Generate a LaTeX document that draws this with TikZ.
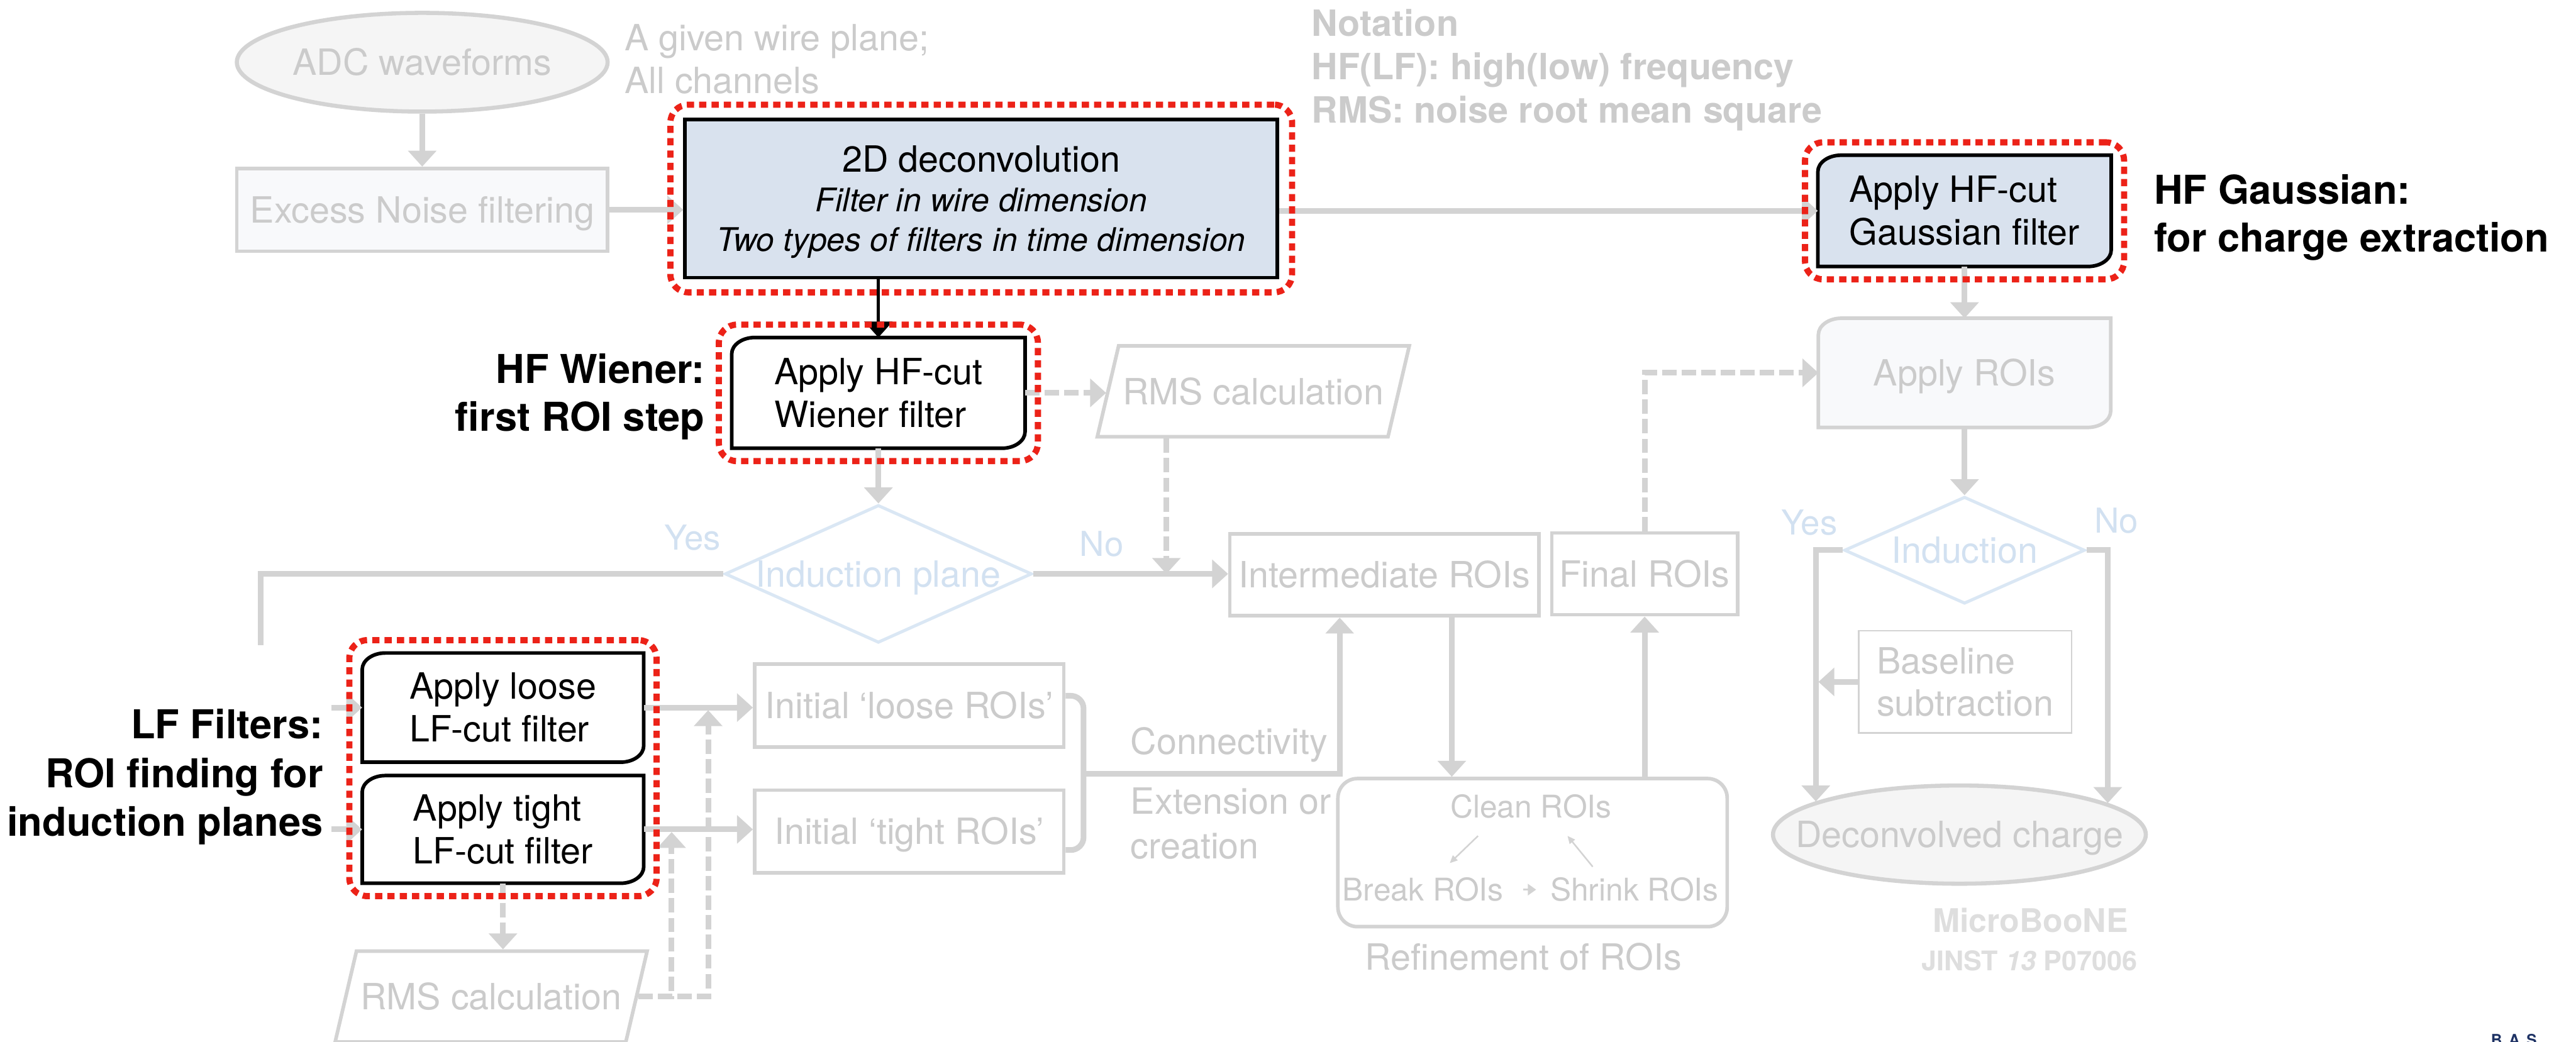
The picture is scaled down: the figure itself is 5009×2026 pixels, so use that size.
\documentclass[tikz,border=0pt]{standalone}
\usepackage{fontspec}
\setmainfont{TeX Gyre Heros}
\usetikzlibrary{arrows.meta,positioning,fit,backgrounds,calc,shapes.geometric}

\definecolor{lgrey}{RGB}{211,211,211}
\definecolor{tgrey}{RGB}{203,203,203}
\definecolor{tlight}{RGB}{222,222,222}
\definecolor{efill}{RGB}{245,245,245}
\definecolor{bfill}{RGB}{248,249,251}
\definecolor{sfill}{RGB}{217,226,238}
\definecolor{lblue}{RGB}{218,231,244}
\definecolor{tblue}{RGB}{210,225,241}
\definecolor{rred}{RGB}{236,34,24}
\definecolor{navy}{RGB}{30,50,100}

\newcommand\setfs[2]{\fontsize{#1pt}{#2pt}\selectfont}
% step box outline: rounded top-left and bottom-right corners only
\newcommand\stepshape[2]{%
  \path[#1] (#2.south west) -- ([yshift=-3.2mm]#2.north west)
    arc[start angle=180, end angle=90, x radius=4.5mm, y radius=3.2mm]
    -- (#2.north east) -- ([yshift=3.2mm]#2.south east)
    arc[start angle=0, end angle=-90, x radius=4.5mm, y radius=3.2mm] -- cycle;}

\tikzset{
  capfix/.style = {text height=14.4pt, text depth=0pt},
  term/.style   = {ellipse, draw=lgrey, line width=0.8mm, fill=efill, text=tgrey,
                   inner sep=0pt, font=\setfs{20}{24}, capfix},
  gbox/.style   = {draw=lgrey, line width=0.7mm, fill=white, text=tgrey,
                   inner sep=0pt, font=\setfs{20}{23.5}},
  stepbox/.style= {inner sep=0pt, align=left, font=\setfs{20}{23.5}},
  para/.style   = {trapezium, trapezium left angle=76.8, trapezium right angle=103.2,
                   draw=lgrey, line width=0.7mm, text=tgrey, inner xsep=0.8mm,
                   inner ysep=6.3mm, font=\setfs{20}{24}, capfix},
  dec/.style    = {diamond, draw=lblue, line width=0.6mm, text=tblue, aspect=2.23,
                   inner sep=0pt, font=\setfs{20}{24}, capfix},
  small/.style  = {text=tgrey, font=\setfs{17.3}{20}, inner sep=0pt,
                   text height=12.4pt, text depth=0pt},
  yn/.style     = {text=tblue, font=\setfs{19}{23}, anchor=base, inner sep=0pt},
  note/.style   = {text=tgrey, font=\setfs{20}{24}, align=left, anchor=base west,
                   inner sep=0pt},
  hl/.style     = {font=\bfseries\setfs{22}{26.5}, inner sep=0pt},
  redbox/.style = {draw=rred, line width=1.2mm, dash pattern=on 1.4mm off 1mm,
                   rounded corners=3.5mm, inner sep=2.5mm},
  ln/.style     = {draw=lgrey, line width=1.1mm},
  arr/.style    = {ln, -{Triangle[length=3.1mm, width=5.4mm]}},
  darr/.style   = {arr, dash pattern=on 2.8mm off 1mm},
  tarr/.style   = {draw=lgrey, line width=0.3mm, -{Triangle[length=1.5mm, width=1.3mm]}}
}

\begin{document}
\begin{tikzpicture}[x=0.1mm, y=-0.1mm]
  \path[use as bounding box] (0,0) rectangle (5009,2026);
  % ---- input and noise filtering ----
  \node[term, minimum width=72.1mm, minimum height=19.2mm] (adc) at (821,121) {ADC waveforms};
  \node[note, font=\setfs{20}{23.6}] (plane) at (1214,181) {A given wire plane;\\All channels};
  \node[gbox, capfix, fill=bfill, minimum width=72.1mm, minimum height=16.1mm] (exc) at (821,408) {Excess Noise filtering};
  \draw[arr] (adc) -- (exc);
  % ---- 2D deconvolution ----
  \node[draw, line width=0.7mm, fill=sfill, minimum width=115.2mm, minimum height=30.8mm,
        align=center, inner sep=0pt, font=\setfs{20}{22}] (dcv) at (1908,386)
    {2D deconvolution\\{\itshape\setfs{18}{22}Filter in wire dimension}\\{\itshape\setfs{18}{22}\smash{Two types of filters in time dimension}}};
  \draw[arr] (exc.east) -- (exc.east -| dcv.west);
  \node[note, font=\bfseries\setfs{20}{24}] (nota) at (2550,239) {Notation\\HF(LF): high(low) frequency\\RMS: noise root mean square};
  % ---- charge extraction branch ----
  \node[stepbox, minimum width=56.9mm, minimum height=21.5mm] (gau) at (3820,410) {Apply HF-cut\\Gaussian filter};
  \draw[arr] (gau.west -| dcv.east) -- (gau.west);
  \node[hl, align=left, anchor=base west] (hfg) at (4188,490) {HF Gaussian:\\for charge extraction};
  \node[stepbox, text=tgrey, capfix, minimum width=56.7mm, minimum height=21.1mm] (aroi) at (3820,725) {Apply ROIs};
  \draw[arr] (gau) -- (aroi);
  \node[dec, aspect=2.25, minimum width=46.8mm, minimum height=20.8mm] (ind2) at (3820,1070) {Induction};
  \draw[arr] (aroi) -- (ind2);
  \node[yn] (yes2) at (3518,1040) {Yes};
  \node[yn] (no2) at (4115,1036) {No};
  \node[gbox, line width=0.3mm, align=left, minimum width=41.4mm, minimum height=19.9mm] (bsl) at (3821,1326) {Baseline\\subtraction};
  \node[term, inner xsep=-7mm, minimum width=72.5mm, minimum height=19.1mm] (dq) at (3810,1623) {Deconvolved charge};
  \draw[arr] (ind2.west) -| (dq.167);
  \draw[arr] (ind2.east) -| (dq.12);
  \draw[arr, shorten >=0.5mm] (bsl.west) -- (bsl.west -| dq.167);
  \node[font=\bfseries\setfs{18}{18}, text=tlight, anchor=base, inner sep=0pt] (mub) at (3948,1813) {MicroBooNE};
  \node[font=\bfseries\setfs{15}{15}, text=tlight, anchor=base, inner sep=0pt] (jinst) at (3946,1888) {JINST \textit{13} P07006};
  \node[font=\bfseries\setfs{8.5}{9}, text=navy, anchor=north west, inner sep=0pt] (bas) at (4843,2010) {B\hspace{1.3mm}A\hspace{1.3mm}S};
  % ---- first ROI step ----
  \node[stepbox, minimum width=56.9mm, minimum height=21.4mm] (wien) at (1708,764) {Apply HF-cut\\Wiener filter};
  \draw[line width=0.6mm, -{Triangle[length=3.1mm, width=5.4mm]}] (dcv.south -| wien.north) -- (wien.north);
  \node[hl, align=right, anchor=base east] (hfw) at (1371,838) {HF Wiener:\\first ROI step};
  \node[para] (rms1) at (2437,761) {RMS calculation};
  \draw[darr] (wien.east) -- (wien.east -| rms1.west);
  \node[dec, minimum width=59.7mm, minimum height=26.8mm] (ind1) at (1708,1116) {Induction plane};
  \draw[arr] (wien) -- (ind1);
  \node[yn] (yes1) at (1347,1070) {Yes};
  \node[yn] (no1) at (2142,1082) {No};
  \coordinate (yesend) at (507,1255);
  \draw[ln] (ind1.west) -| (yesend);
  % ---- ROI bookkeeping ----
  \node[gbox, capfix, minimum width=60.1mm, minimum height=15.9mm] (inter) at (2692,1118) {Intermediate ROIs};
  \node[gbox, capfix, minimum width=36.1mm, minimum height=15.9mm] (final) at (3198,1116) {Final ROIs};
  \draw[arr] (ind1.east) -- (ind1.east -| inter.west);
  \coordinate (rmsj) at (2268,1116);
  \draw[darr] (rms1.south -| rmsj) -- (rmsj);
  \draw[darr] (final.north) |- (aroi.west);
  \node[gbox, rounded corners=3.8mm, minimum width=75.7mm, minimum height=28.8mm] (refb) at (2980,1658) {};
  \node[small] (cln) at (2977,1569) {Clean ROIs};
  \node[small] (brk) at (2767,1730) {Break ROIs};
  \node[small] (shr) at (3178,1730) {Shrink ROIs};
  \draw[tarr] ([xshift=-10.3mm, yshift=-3.4mm]cln.south) -- ([xshift=5.2mm, yshift=2.9mm]brk.north);
  \draw[tarr] ([xshift=-8.1mm, yshift=2.2mm]shr.north) -- ([xshift=7.1mm, yshift=-3.4mm]cln.south);
  \draw[tarr, -{Triangle[length=1.6mm, width=2.2mm]}] ([xshift=3.8mm]brk.east) -- ([xshift=-2.7mm]shr.west);
  \node[note, anchor=base] (refl) at (2962,1886) {Refinement of ROIs};
  \draw[arr] ([xshift=13.1mm]inter.south) -- ([xshift=13.1mm]inter.south |- refb.north);
  \draw[arr] (refb.north -| final) -- (final.south);
  % ---- LF filters for induction planes ----
  \node[stepbox, minimum width=54.6mm, minimum height=21.1mm] (loose) at (978,1376) {Apply loose\\LF-cut filter};
  \node[stepbox, minimum width=54.6mm, minimum height=20.8mm, below=2.6mm of loose] (tight) {Apply tight\\LF-cut filter};
  \node[hl, align=right, anchor=base east, font=\bfseries\setfs{22}{27}] (hflf) at (629,1626) {LF Filters:\\ROI finding for\\induction planes};
  \draw[arr] ([xshift=-6mm]loose.west) -- (loose.west);
  \draw[arr] ([xshift=-6mm]tight.west) -- (tight.west);
  \node[gbox, capfix, minimum width=60.1mm, minimum height=16.1mm] (iloose) at (1768,1372) {Initial ‘loose ROIs’};
  \node[gbox, capfix, minimum width=60.1mm, minimum height=16.1mm] (itight) at (1768,1617) {Initial ‘tight ROIs’};
  \draw[arr] (loose.east) -- (loose.east -| iloose.west);
  \draw[arr] (tight.east) -- (tight.east -| itight.west);
  \node[para] (rms2) at (955,1938) {RMS calculation};
  \draw[darr] (tight.south) -- (tight.south |- rms2.north);
  \coordinate (jt) at (1306,1618);
  \coordinate (jl) at (1377,1381);
  \draw[darr] (rms2.east) -| (jt);
  \draw[darr] (rms2.east) -| (jl);
  \coordinate (btip) at (2107,1505);
  \draw[ln, rounded corners=2.5mm] ([yshift=1.9mm]iloose.east) -| (btip) |- ([yshift=-3.6mm]itight.east);
  \draw[arr] (btip) -| ([xshift=-8.7mm]inter.south);
  \node[note] (conn) at (2198,1467) {Connectivity};
  \node[note, font=\setfs{20}{24.7}] (ext) at (2198,1670) {Extension or\\creation};
  % ---- highlighted steps ----
  \node[redbox, fit=(dcv)] (rdcv) {};
  \node[redbox, fit=(wien)] (rwien) {};
  \node[redbox, fit=(gau)] (rgau) {};
  \node[redbox, fit=(loose) (tight)] (rlf) {};
  \begin{scope}[on background layer]
    \fill[white] (0,0) rectangle (5009,2026);
    \stepshape{draw=black, line width=0.7mm, fill=sfill}{gau}
    \stepshape{draw=black, line width=0.7mm, fill=white}{wien}
    \stepshape{draw=black, line width=0.7mm, fill=white}{loose}
    \stepshape{draw=black, line width=0.7mm, fill=white}{tight}
    \stepshape{draw=lgrey, line width=0.7mm, fill=bfill}{aroi}
  \end{scope}
\end{tikzpicture}
\end{document}
